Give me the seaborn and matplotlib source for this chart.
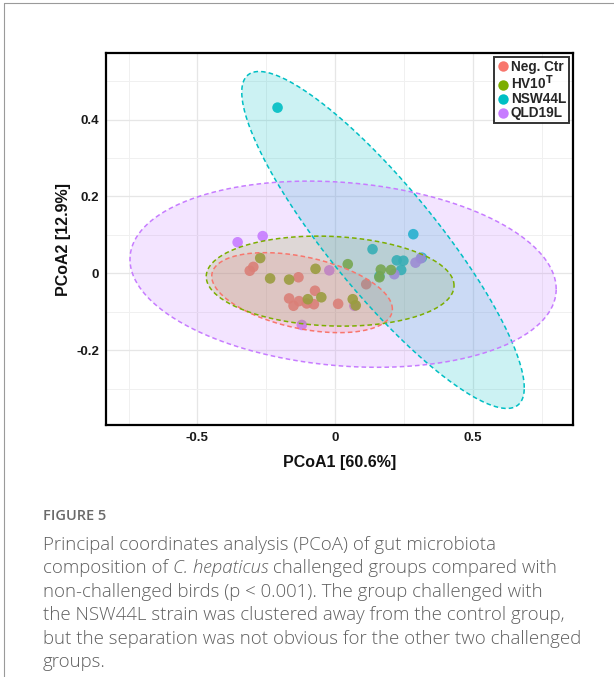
import numpy as np
import pandas as pd
import matplotlib
matplotlib.use("Agg")
import matplotlib.pyplot as plt
import seaborn as sns
from matplotlib.lines import Line2D

# ---------------- data ----------------
groups = ["Neg. Ctr", "HV10T", "NSW44L", "QLD19L"]
legend_labels = ["Neg. Ctr", "HV10$^{\\mathbf{T}}$", "NSW44L", "QLD19L"]
palette = ["#F8766D", "#7CAE00", "#00BFC4", "#C77CFF"]

neg_x = [-0.310, -0.297, -0.133, -0.167, -0.151, -0.131, -0.103, -0.077, -0.073, 0.011, 0.113]
neg_y = [0.007, 0.017, -0.010, -0.065, -0.084, -0.072, -0.078, -0.080, -0.045, -0.079, -0.028]

hv_x = [-0.272, -0.236, -0.167, -0.071, 0.046, 0.166, 0.203, 0.161, -0.099, -0.050, 0.064, 0.075]
hv_y = [0.040, -0.013, -0.016, 0.012, 0.024, 0.010, 0.009, -0.010, -0.067, -0.062, -0.067, -0.083]

nsw_x = [-0.209, 0.284, 0.136, 0.224, 0.248, 0.240, 0.161, 0.315]
nsw_y = [0.431, 0.102, 0.063, 0.034, 0.033, 0.009, -0.007, 0.041]

qld_x = [-0.354, -0.263, -0.021, 0.215, 0.292, 0.311, -0.121, 0.070]
qld_y = [0.081, 0.097, 0.008, -0.002, 0.028, 0.039, -0.134, -0.084]

# ellipse summaries (centre, half-extent in x and y, correlation) per group
ell_cx = [-0.120, -0.018, 0.174, 0.029]
ell_cy = [-0.050, -0.020, 0.087, -0.002]
ell_sx = [0.328, 0.450, 0.513, 0.774]
ell_sy = [0.104, 0.117, 0.438, 0.242]
ell_rho = [-0.41, -0.10, -0.877, -0.16]

xticks = [-0.5, 0.0, 0.5]
xticklabels = ["-0.5", "0", "0.5"]
yticks = [-0.2, 0.0, 0.2, 0.4]
yticklabels = ["-0.2", "0", "0.2", "0.4"]

caption_title = "FIGURE 5"
caption_lines = [
    [("Principal coordinates analysis (PCoA) of gut microbiota", "normal")],
    [("composition of ", "normal"), ("C. hepaticus", "italic"),
     (" challenged groups compared with", "normal")],
    [("non-challenged birds (p < 0.001). The group challenged with", "normal")],
    [("the NSW44L strain was clustered away from the control group,", "normal")],
    [("but the separation was not obvious for the other two challenged", "normal")],
    [("groups.", "normal")],
]

df = pd.concat([
    pd.DataFrame({"PCoA1": neg_x, "PCoA2": neg_y, "group": groups[0]}),
    pd.DataFrame({"PCoA1": hv_x, "PCoA2": hv_y, "group": groups[1]}),
    pd.DataFrame({"PCoA1": nsw_x, "PCoA2": nsw_y, "group": groups[2]}),
    pd.DataFrame({"PCoA1": qld_x, "PCoA2": qld_y, "group": groups[3]}),
], ignore_index=True)
draw_order = {"NSW44L": 0, "QLD19L": 1, "Neg. Ctr": 2, "HV10T": 3}
df["order"] = df["group"].map(draw_order)
df = df.sort_values("order", kind="stable")

# ---------------- figure ----------------
sns.set_theme(style="whitegrid")
plt.rcParams["font.family"] = ["Liberation Sans", "DejaVu Sans"]

fig = plt.figure(figsize=(6.14, 6.77), dpi=100)
ax = fig.add_axes([106 / 614, 1 - 425 / 677, 467 / 614, 372 / 677])
ax.set_facecolor("white")

pal = dict(zip(groups, palette))
sns.scatterplot(data=df, x="PCoA1", y="PCoA2", hue="group", palette=pal,
                hue_order=groups, s=58, linewidth=0, alpha=0.9, ax=ax,
                legend=False, zorder=3)

# ellipses drawn over the points (like ggplot stat_ellipse polygons)
t = np.linspace(0, 2 * np.pi, 300)
for g, cx, cy, sx, sy, r in zip(groups, ell_cx, ell_cy, ell_sx, ell_sy, ell_rho):
    cov = np.array([[sx * sx, r * sx * sy], [r * sx * sy, sy * sy]])
    L = np.linalg.cholesky(cov)
    pts = L @ np.vstack([np.cos(t), np.sin(t)])
    ex = cx + pts[0]
    ey = cy + pts[1]
    ax.fill(ex, ey, color=pal[g], alpha=0.2, lw=0, zorder=4)
    ax.plot(ex, ey, color=pal[g], lw=1.1, ls=(0, (3, 2)), zorder=5)

ax.set_xlim(-0.832, 0.864)
ax.set_ylim(-0.394, 0.573)
ax.set_xticks(xticks)
ax.set_xticklabels(xticklabels)
ax.set_yticks(yticks)
ax.set_yticklabels(yticklabels)
ax.set_xticks([-0.75, -0.25, 0.25, 0.75], minor=True)
ax.set_yticks([-0.3, -0.1, 0.1, 0.3, 0.5], minor=True)
ax.grid(which="major", color="#e6e6e6", lw=0.9)
ax.grid(which="minor", color="#f0f0f0", lw=0.7)
ax.tick_params(axis="both", which="major", length=3, width=0.8, color="#333333",
               labelsize=9.5, pad=2, labelcolor="#1a1a1a")
ax.tick_params(axis="both", which="minor", length=0)
for lab in ax.get_xticklabels() + ax.get_yticklabels():
    lab.set_fontweight("bold")
for sp in ax.spines.values():
    sp.set_color("black")
    sp.set_linewidth(1.6)
    sp.set_visible(True)
ax.set_xlabel("PCoA1 [60.6%]", fontsize=11.5, fontweight="bold", labelpad=8, color="#111111")
ax.set_ylabel("PCoA2 [12.9%]", fontsize=11.5, fontweight="bold", labelpad=4, color="#111111")

# legend
handles = [Line2D([0], [0], marker="o", ls="", markersize=7.5, markeredgewidth=0,
                  markerfacecolor=c) for c in palette]
leg = ax.legend(handles, legend_labels, loc="upper right", frameon=True, fancybox=False,
                prop={"weight": "bold", "size": 9.8}, handletextpad=0.15,
                labelspacing=0.0, borderpad=0.2, handlelength=0.9,
                borderaxespad=0.3)
leg.get_frame().set_edgecolor("black")
leg.get_frame().set_linewidth(1.4)
leg.set_zorder(10)

# page frame lines
fig.add_artist(plt.Line2D([4 / 614, 4 / 614], [0, 1 - 3 / 677], color="#9a9a9a", lw=0.8))
fig.add_artist(plt.Line2D([4 / 614, 1], [1 - 3 / 677, 1 - 3 / 677], color="#9a9a9a", lw=0.8))

# caption
cap_color = "#5f5f5f"
fig.text(43 / 614, 1 - 516 / 677, caption_title, fontsize=10.5, color="#6a6a6a",
         family=["Open Sans", "DejaVu Sans"], fontweight="semibold", va="center")
fig.canvas.draw()
renderer = fig.canvas.get_renderer()
y0 = 545
dy = 23.4
for i, parts in enumerate(caption_lines):
    x = 43 / 614
    y = 1 - (y0 + i * dy) / 677
    for txt, style in parts:
        tt = fig.text(x, y, txt, fontsize=13.4, color=cap_color, style=style,
                      family=["Open Sans", "DejaVu Sans"], fontweight="light", va="center")
        bb = tt.get_window_extent(renderer=renderer)
        x = bb.x1 / fig.bbox.width

fig.savefig("out.png", dpi=100)
